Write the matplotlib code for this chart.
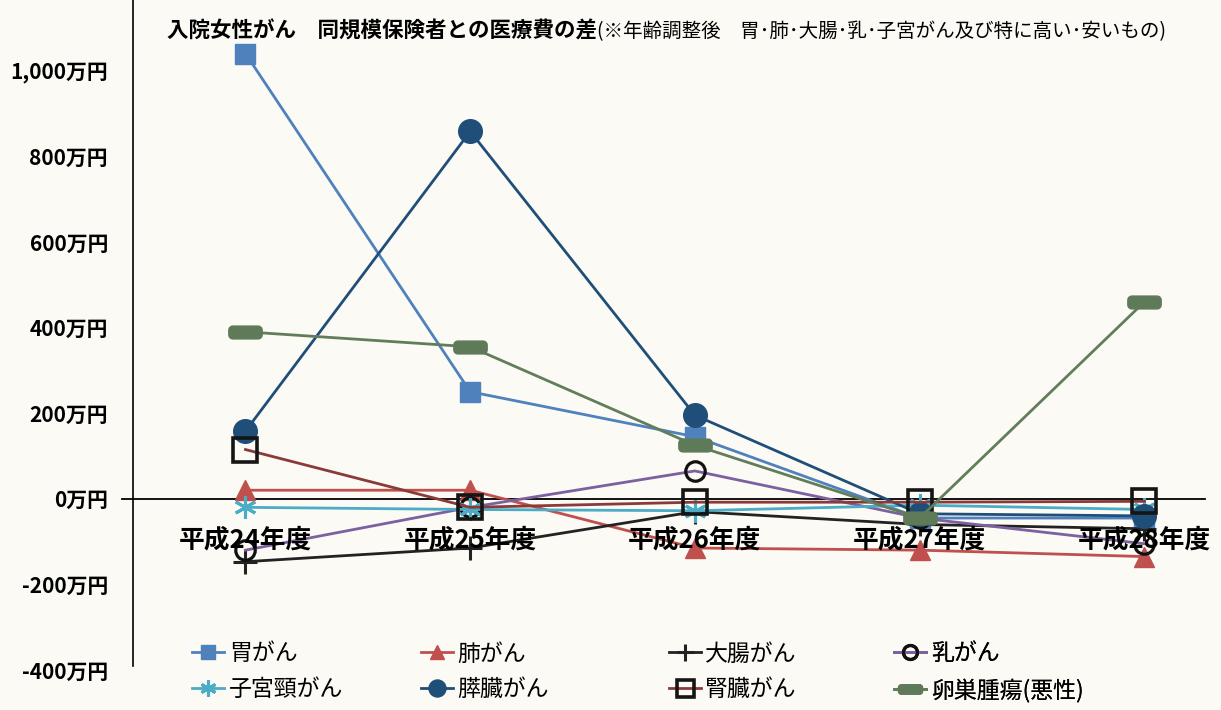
import matplotlib
matplotlib.use('Agg')
import matplotlib.pyplot as plt
import numpy as np
from matplotlib.path import Path
from matplotlib.lines import Line2D

plt.rcParams['font.family'] = ['Noto Sans CJK JP', 'DejaVu Sans']

# 医療費の差 (万円), 同規模保険者との比較
years = ['平成24年度', '平成25年度', '平成26年度', '平成27年度', '平成28年度']
stomach = [1040, 250, 145, -45, -45]
lung = [20, 20, -115, -120, -135]
colon = [-147, -115, -30, -60, -70]
breast = [-120, -20, 65, -45, -105]
cervical = [-20, -25, -28, -15, -25]
pancreas = [158, 858, 195, -35, -40]
kidney = [115, -20, -8, -8, -6]
ovarian = [390, 355, 125, -45, 460]

names = ['胃がん', '肺がん', '大腸がん', '乳がん',
         '子宮頸がん', '膵臓がん', '腎臓がん', '卵巣腫瘍(悪性)']
yticks = [-400, -200, 0, 200, 400, 600, 800, 1000]


def rounded_bar(w=2.6, h=1.0, r=0.32, n=8):
    # 横長の角丸四角マーカー
    pts = []
    corners = [(w/2 - r, h/2 - r, 0), (-w/2 + r, h/2 - r, 90),
               (-w/2 + r, -h/2 + r, 180), (w/2 - r, -h/2 + r, 270)]
    for cx, cy, a0 in corners:
        for t in np.linspace(np.radians(a0), np.radians(a0 + 90), n):
            pts.append((cx + r*np.cos(t), cy + r*np.sin(t)))
    pts.append(pts[0])
    codes = [Path.MOVETO] + [Path.LINETO]*(len(pts) - 2) + [Path.CLOSEPOLY]
    return Path(pts, codes)


bar_marker = rounded_bar()

styles = [
    dict(color='#4F81BD', marker='s', ms=14, mfc='#4F81BD', mec='#4F81BD'),
    dict(color='#C0504D', marker='^', ms=14, mfc='#C0504D', mec='#C0504D'),
    dict(color='#222222', marker='+', ms=17, mew=2.2, mec='#222222'),
    dict(color='#7D60A0', marker='o', ms=14, mfc='none', mec='#111111', mew=2.3),
    dict(color='#4BACC6', marker=(6, 2, 0), ms=16, mew=2.2, mec='#4BACC6'),
    dict(color='#1F4E79', marker='o', ms=17, mfc='#1F4E79', mec='#1F4E79'),
    dict(color='#8B3A3A', marker='s', ms=17, mfc='none', mec='#151515', mew=2.6),
    dict(color='#627D5A', marker=bar_marker, ms=24, mfc='#5E7A58', mec='#5E7A58'),
]
series = [stomach, lung, colon, breast, cervical, pancreas, kidney, ovarian]

fig = plt.figure(figsize=(12.21, 7.10), dpi=100)
fig.patch.set_facecolor('#FBFAF4')
ax = fig.add_axes([0.109, 0.0563, 0.878, 0.9437])
ax.set_facecolor('#FBFAF4')

x = np.arange(len(years))
for vals, st in zip(series, styles):
    ax.plot(x, vals, lw=2.0, **st)

ax.set_xlim(-0.5, 4.27)
ax.set_ylim(-400, 1165)

for s in ['top', 'right', 'bottom']:
    ax.spines[s].set_visible(False)
ax.spines['left'].set_linewidth(1.2)
ax.spines['left'].set_bounds(-390, 1165)
ax.axhline(0, xmin=-0.01, xmax=1, color='black', lw=1.3, clip_on=False, zorder=1)

ax.set_yticks(yticks)
ax.set_yticklabels([f'{v:,}万円' for v in yticks], fontsize=15, fontweight='bold')
ax.tick_params(axis='y', length=0, pad=18)

ax.set_xticks([])
for xi, lab in zip(x, years):
    ax.text(xi, -97, lab, ha='center', va='center', fontsize=18.5,
            fontweight='bold', zorder=5)

fig.text(0.137, 0.957, '入院女性がん　同規模保険者との医療費の差', fontsize=15.5,
         fontweight='bold', va='center')
fig.text(0.489, 0.955, '(※年齢調整後　胃･肺･大腸･乳･子宮がん及び特に高い･安いもの)',
         fontsize=14, va='center')

# 凡例は4列を個別に配置
col_x = [0.150, 0.337, 0.540, 0.725]
for i in range(4):
    handles = []
    for j in (i, i + 4):
        st = dict(styles[j])
        st['ms'] = st['ms'] * 0.72
        handles.append(Line2D([0], [0], lw=2.0, **st))
    leg = ax.legend(handles, [names[i], names[i + 4]], loc='upper left',
                    bbox_to_anchor=(col_x[i], 0.108), bbox_transform=fig.transFigure,
                    frameon=False, fontsize=16.5, handlelength=1.4, handletextpad=0.2,
                    labelspacing=0.55, borderaxespad=0)
    ax.add_artist(leg)

fig.savefig('out.png', dpi=100, facecolor=fig.get_facecolor())
